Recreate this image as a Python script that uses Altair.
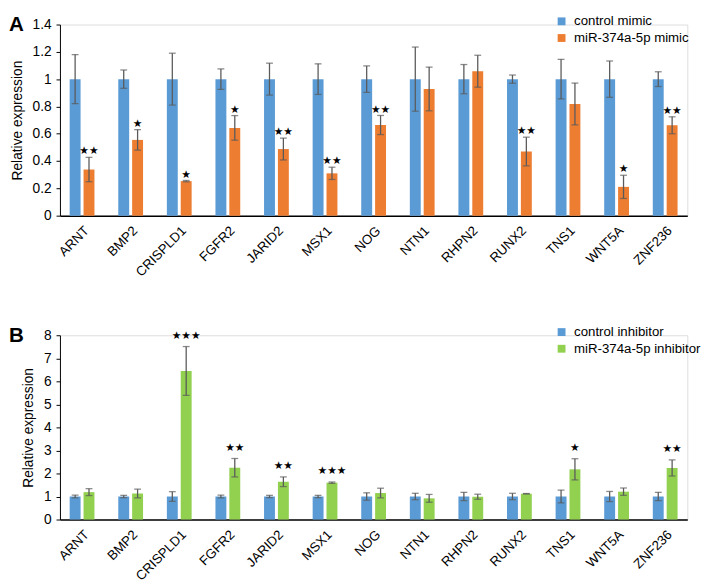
import altair as alt
import pandas as pd

genes = ["ARNT", "BMP2", "CRISPLD1", "FGFR2", "JARID2", "MSX1", "NOG",
         "NTN1", "RHPN2", "RUNX2", "TNS1", "WNT5A", "ZNF236"]

# Panel A
a_series = ["control mimic", "miR-374a-5p mimic"]
a_ctrl = [1, 1, 1, 1, 1, 1, 1, 1, 1, 1, 1, 1, 1]
a_ctrl_err = [0.18, 0.067, 0.19, 0.075, 0.117, 0.112, 0.097, 0.235, 0.107, 0.03, 0.145, 0.133, 0.054]
a_trt = [0.338, 0.555, 0.253, 0.643, 0.488, 0.31, 0.664, 0.928, 1.058, 0.47, 0.818, 0.211, 0.662]
a_trt_err = [0.089, 0.075, 0.005, 0.09, 0.08, 0.045, 0.07, 0.16, 0.117, 0.105, 0.153, 0.085, 0.062]
a_stars = ["**", "*", "*", "*", "**", "**", "**", "", "", "**", "", "*", "**"]

# Panel B
b_series = ["control inhibitor", "miR-374a-5p inhibitor"]
b_ctrl = [1, 1, 1, 1, 1, 1, 1, 1, 1, 1, 1, 1, 1]
b_ctrl_err = [0.06, 0.05, 0.21, 0.06, 0.05, 0.05, 0.16, 0.14, 0.18, 0.14, 0.28, 0.22, 0.18]
b_trt = [1.19, 1.13, 6.45, 2.25, 1.64, 1.6, 1.15, 0.92, 0.99, 1.12, 2.18, 1.21, 2.24]
b_trt_err = [0.15, 0.19, 1.06, 0.4, 0.21, 0.03, 0.21, 0.17, 0.11, 0.01, 0.46, 0.16, 0.35]
b_stars = ["", "", "***", "**", "**", "***", "", "", "", "", "*", "", "**"]

colors_a = ["#5B9BD5", "#ED7D31"]
colors_b = ["#5B9BD5", "#92D050"]

FONT = "Liberation Sans"
ERR = "#5a5a5a"


def make_df(series, ctrl, ctrl_err, trt, trt_err, stars):
    rows = []
    for i, g in enumerate(genes):
        rows.append(dict(gene=g, series=series[0], value=ctrl[i], err=ctrl_err[i], star=""))
        rows.append(dict(gene=g, series=series[1], value=trt[i], err=trt_err[i],
                         star="★" * len(stars[i])))
    df = pd.DataFrame(rows)
    df["lo"] = df["value"] - df["err"]
    df["hi"] = df["value"] + df["err"]
    return df


def panel(df, series, colors, ymax, yvals, label, star_dy, height):
    x = alt.X("gene:N", sort=genes,
              scale=alt.Scale(paddingInner=0.49),
              axis=alt.Axis(title=None, labelAngle=-45, labelAlign="right",
                            labelBaseline="top", labelFontSize=13.5, ticks=False,
                            domainWidth=1.5, domainColor="black", labelPadding=8,
                            labelColor="black", labelFont=FONT))
    xo = alt.XOffset("series:N", sort=series,
                     scale=alt.Scale(paddingInner=0.214, paddingOuter=0))
    yscale = alt.Scale(domain=[0, ymax], nice=False)
    yaxis = alt.Axis(values=yvals, format="~g", title="Relative expression",
                     grid=False, domainColor="black", tickColor="black",
                     tickSize=4, labelFontSize=14, labelColor="black",
                     labelPadding=5, labelOverlap=False, titleFontSize=14,
                     titleFontWeight="normal", titleColor="black",
                     titlePadding=8, labelFont=FONT, titleFont=FONT)

    def Y(field):
        return alt.Y(field, scale=yscale, axis=yaxis, title="Relative expression")

    base = alt.Chart(df)
    bars = base.mark_bar().encode(
        x=x, xOffset=xo, y=Y("value:Q"),
        color=alt.Color("series:N", sort=series,
                        scale=alt.Scale(domain=series, range=colors),
                        legend=alt.Legend(orient="none", legendX=505, legendY=-10,
                                          direction="vertical", title=None,
                                          symbolType="square", symbolSize=64,
                                          symbolStrokeWidth=0, labelFontSize=13.5,
                                          labelFont=FONT, labelColor="black",
                                          rowPadding=2, labelOffset=6)))
    rules = base.mark_rule(color=ERR, strokeWidth=1.3).encode(
        x=x, xOffset=xo, y=Y("lo:Q"), y2="hi:Q")
    cap_hi = base.mark_tick(color=ERR, size=7, thickness=1.3, orient="horizontal").encode(
        x=x, xOffset=xo, y=Y("hi:Q"))
    cap_lo = base.mark_tick(color=ERR, size=7, thickness=1.3, orient="horizontal").encode(
        x=x, xOffset=xo, y=Y("lo:Q"))
    stars = base.mark_text(font="DejaVu Sans", fontSize=11, baseline="alphabetic",
                           dy=star_dy, color="black").encode(
        x=x, xOffset=xo, y=Y("hi:Q"), text="star:N")
    lab = alt.Chart(pd.DataFrame({"t": [label]})).mark_text(
        font=FONT, fontSize=21, fontWeight="bold", align="left", baseline="top",
        color="black").encode(x=alt.value(-52), y=alt.value(-10), text="t:N")
    return alt.layer(bars, rules, cap_hi, cap_lo, stars, lab).properties(
        width=640, height=height)


df_a = make_df(a_series, a_ctrl, a_ctrl_err, a_trt, a_trt_err, a_stars)
df_b = make_df(b_series, b_ctrl, b_ctrl_err, b_trt, b_trt_err, b_stars)

pa = panel(df_a, a_series, colors_a, 1.4, [0, 0.2, 0.4, 0.6, 0.8, 1, 1.2, 1.4], "A", -3, 195)
pb = panel(df_b, b_series, colors_b, 8, [0, 1, 2, 3, 4, 5, 6, 7, 8], "B", -8, 188)

chart = alt.vconcat(pa, pb, spacing=46).resolve_scale(
    color="independent", y="independent", x="independent", xOffset="independent"
).resolve_legend(color="independent").properties(
    padding=0
).configure_view(stroke=None).configure(font=FONT)

chart.save("out.html", embed_options={"renderer": "svg", "actions": False})
